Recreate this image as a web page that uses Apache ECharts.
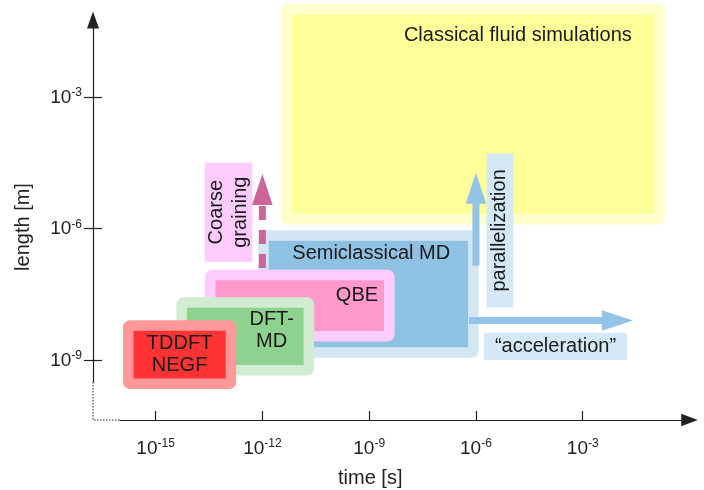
<!DOCTYPE html>
<html>
<head>
<meta charset="utf-8">
<script src="https://cdn.jsdelivr.net/npm/echarts@6/dist/echarts.min.js"></script>
<style>
  html, body { margin: 0; padding: 0; background: #ffffff; }
  #chart { width: 704px; height: 490px; }
</style>
</head>
<body>
<div id="chart"></div>
<script>
// Both axes are logarithmic: values below are decimal exponents (log10).
const timeTicks = [-15, -12, -9, -6, -3];      // 10^x s
const lengthTicks = [-9, -6, -3];              // 10^y m
const timeRange = [-16, 0];
const lengthRange = [-9.5, -1.25];

// Simulation methods: time/length extent of each method (log10)
const methodNames = ['Classical fluid simulations', 'Semiclassical MD', 'QBE', 'DFT-\nMD', 'TDDFT\nNEGF'];
const methodTimeMin = [-11.18, -11.82, -13.32, -14.12, -15.62];
const methodTimeMax = [-0.99, -6.22, -8.58, -10.84, -13.03];
const methodLengthMin = [-5.67, -8.71, -8.34, -9.11, -9.42];
const methodLengthMax = [-1.12, -6.28, -7.18, -7.81, -8.33];

// Directions of development (arrows)
const trendNames = ['Coarse\ngraining', 'parallelization', '\u201cacceleration\u201d'];
const trendTimeFrom = [-12, -6, -6.19];
const trendTimeTo = [-12, -6, -1.59];
const trendLengthFrom = [-6.90, -6.85, -8.10];
const trendLengthTo = [-4.76, -4.73, -8.10];

// Caption boxes for the arrows
const captionTimeMin = [-13.62, -5.70, -5.77];
const captionTimeMax = [-12.28, -4.95, -1.76];
const captionLengthMin = [-6.76, -7.80, -9.00];
const captionLengthMax = [-4.50, -4.29, -8.38];

const FONT = '"Liberation Sans", Arial, Helvetica, sans-serif';
const TEXT = '#1a1a1a';
const AXIS = '#222222';

const methodFill = ['#ffff99', '#8fc1e3', '#ff99cc', '#8fd18f', '#ff3333'];
const methodHalo = ['#ffffcc', '#d3e6f4', '#ffccff', '#d1ecd1', '#ff9999'];
const trendColor = ['#cc6699', '#93c3e6', '#93c3e6'];
const captionFill = ['#ffccff', '#d4e8f6', '#d4e8f6'];

const methodData = methodNames.map((n, i) =>
  [methodTimeMin[i], methodTimeMax[i], methodLengthMin[i], methodLengthMax[i]]);
const trendData = trendNames.map((n, i) =>
  [trendTimeFrom[i], trendLengthFrom[i], trendTimeTo[i], trendLengthTo[i]]);
const captionData = trendNames.map((n, i) =>
  [captionTimeMin[i], captionTimeMax[i], captionLengthMin[i], captionLengthMax[i]]);

// where each method's name sits inside its box
function methodLabelPos(i, x, y, w, h) {
  switch (i) {
    case 0: return { x: x + w - 22.5, y: y + 21, align: 'right' };
    case 1: return { x: x + w - 18, y: y + 12.5, align: 'right' };
    case 2: return { x: x + w - 6, y: y + 15, align: 'right' };
    case 3: return { x: x + w - 32, y: y + 23, align: 'center' };
    default: return { x: x + w / 2, y: y + h / 2, align: 'center' };
  }
}

function renderMethod(params, api) {
  const i = params.dataIndex;
  const tl = api.coord([api.value(0), api.value(3)]);
  const br = api.coord([api.value(1), api.value(2)]);
  const x = tl[0], y = tl[1], w = br[0] - tl[0], h = br[1] - tl[1];
  const pad = 10.5;
  const lp = methodLabelPos(i, x, y, w, h);
  return {
    type: 'group',
    children: [
      { type: 'rect', shape: { x: x - pad, y: y - pad, width: w + 2 * pad, height: h + 2 * pad, r: 7 },
        style: { fill: methodHalo[i] } },
      { type: 'rect', shape: { x: x, y: y, width: w, height: h }, style: { fill: methodFill[i] } },
      { type: 'text', x: lp.x, y: lp.y,
        style: { text: methodNames[i], fill: TEXT, fontSize: 20, fontFamily: FONT,
                 align: lp.align, verticalAlign: 'middle', lineHeight: 22 } }
    ]
  };
}

function renderCaption(params, api) {
  const i = params.dataIndex;
  const tl = api.coord([api.value(0), api.value(3)]);
  const br = api.coord([api.value(1), api.value(2)]);
  const x = tl[0], y = tl[1], w = br[0] - tl[0], h = br[1] - tl[1];
  const vertical = i < 2;
  return {
    type: 'group',
    children: [
      { type: 'rect', shape: { x: x, y: y, width: w, height: h }, style: { fill: captionFill[i] } },
      { type: 'text', x: x + w / 2, y: y + h / 2, rotation: vertical ? Math.PI / 2 : 0,
        style: { text: trendNames[i], fill: TEXT, fontSize: 20, fontFamily: FONT,
                 align: 'center', verticalAlign: 'middle', lineHeight: 23.5 } }
    ]
  };
}

function renderTrend(params, api) {
  const i = params.dataIndex;
  const a = api.coord([api.value(0), api.value(1)]);
  const b = api.coord([api.value(2), api.value(3)]);
  const dx = b[0] - a[0], dy = b[1] - a[1];
  const len = Math.sqrt(dx * dx + dy * dy);
  const ux = dx / len, uy = dy / len, nx = -uy, ny = ux;
  const headLen = 31, headHalf = 10.3;
  const bx = b[0] - ux * headLen, by = b[1] - uy * headLen;
  return {
    type: 'group',
    children: [
      { type: 'line', shape: { x1: a[0], y1: a[1], x2: bx + ux * 0.5, y2: by + uy * 0.5 },
        style: { stroke: trendColor[i], lineWidth: 7, lineCap: 'butt',
                 lineDash: i === 0 ? [14, 10] : null } },
      { type: 'polygon',
        shape: { points: [[b[0], b[1]], [bx + nx * headHalf, by + ny * headHalf], [bx - nx * headHalf, by - ny * headHalf]] },
        style: { fill: trendColor[i] } }
    ]
  };
}

// dotted stretch of both axes near the origin
function renderOrigin(params, api) {
  const c = api.coord([api.value(0), api.value(1)]);
  return {
    type: 'polyline',
    shape: { points: [[c[0] - 27, c[1]], [c[0] - 27, c[1] + 38], [c[0], c[1] + 38]] },
    style: { stroke: AXIS, lineWidth: 1, lineDash: [1.5, 1.5], fill: null }
  };
}

const tickRich = {
  b: { fontSize: 19, fontFamily: FONT, color: '#222', verticalAlign: 'bottom', lineHeight: 20 },
  s: { fontSize: 12, fontFamily: FONT, color: '#222', verticalAlign: 'top', lineHeight: 14 }
};
const powerLabel = v => '{b|10}{s|' + v + '}';

const gridBox = { left: 120, right: 14.5, top: 20, bottom: 108, outerBoundsMode: 'none', containLabel: false };

const chart = echarts.init(document.getElementById('chart'), null, { renderer: 'canvas' });
chart.setOption({
  animation: false,
  backgroundColor: '#ffffff',
  grid: [Object.assign({}, gridBox), Object.assign({}, gridBox)],
  xAxis: [{
    type: 'value', gridIndex: 0, min: timeRange[0], max: timeRange[1], position: 'bottom', offset: 38,
    axisLine: { show: true, onZero: false, lineStyle: { color: AXIS, width: 1.2 }, symbol: ['none', 'triangle'], symbolSize: [12.5, 16.5] },
    axisTick: { show: true, inside: true, length: 9, customValues: timeTicks, lineStyle: { color: AXIS, width: 1.2 } },
    axisLabel: { customValues: timeTicks, formatter: powerLabel, rich: tickRich, margin: 18 },
    splitLine: { show: false },
    name: 'time [s]', nameLocation: 'middle', nameGap: 48,
    nameTextStyle: { fontSize: 20, fontFamily: FONT, color: '#222', padding: [0, 69, 0, 0] }
  }, {
    type: 'value', gridIndex: 1, min: timeRange[0], max: timeRange[1], show: false,
    axisLine: { onZero: false }
  }],
  yAxis: [{
    type: 'value', gridIndex: 0, min: lengthRange[0], max: lengthRange[1], position: 'left', offset: 27,
    axisLine: { show: true, onZero: false, lineStyle: { color: AXIS, width: 1.2 }, symbol: ['none', 'triangle'], symbolSize: [12, 17] },
    axisTick: { show: true, inside: false, length: 9, customValues: lengthTicks, lineStyle: { color: AXIS, width: 1.2 } },
    axisLabel: { customValues: lengthTicks, formatter: powerLabel, rich: tickRich, margin: 11 },
    splitLine: { show: false },
    name: 'length [m]', nameLocation: 'middle', nameGap: 60,
    nameTextStyle: { fontSize: 20, fontFamily: FONT, color: '#222', padding: [0, 52, 0, 0] }
  }, {
    // second copy of the length axis: tick marks on the inner side
    type: 'value', gridIndex: 1, min: lengthRange[0], max: lengthRange[1], position: 'left', offset: 27,
    axisLine: { show: false, onZero: false },
    axisTick: { show: true, inside: true, length: 9, customValues: lengthTicks, lineStyle: { color: AXIS, width: 1.2 } },
    axisLabel: { show: false },
    splitLine: { show: false }
  }],
  series: [
    { type: 'custom', name: 'methods', xAxisIndex: 0, yAxisIndex: 0, clip: false,
      renderItem: renderMethod, encode: { x: [0, 1], y: [2, 3] }, data: methodData, silent: true },
    { type: 'custom', name: 'captions', xAxisIndex: 0, yAxisIndex: 0, clip: false,
      renderItem: renderCaption, encode: { x: [0, 1], y: [2, 3] }, data: captionData, silent: true },
    { type: 'custom', name: 'trends', xAxisIndex: 0, yAxisIndex: 0, clip: false,
      renderItem: renderTrend, encode: { x: [0, 2], y: [1, 3] }, data: trendData, silent: true },
    { type: 'custom', name: 'origin', xAxisIndex: 0, yAxisIndex: 0, clip: false,
      renderItem: renderOrigin, data: [[timeRange[0], lengthRange[0]]], silent: true }
  ]
});
</script>
</body>
</html>
